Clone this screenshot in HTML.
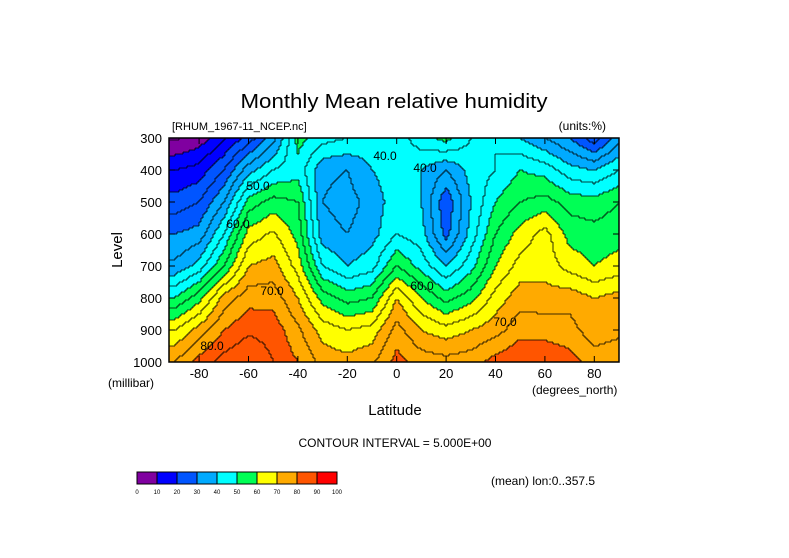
<!DOCTYPE html>
<html><head><meta charset="utf-8"><style>
body{margin:0;background:#fff;}
svg{display:block;font-family:"Liberation Sans",sans-serif;}
</style></head><body>
<svg id="chart" width="789" height="558" viewBox="0 0 789 558">
<rect width="789" height="558" fill="#fff"/>
<text x="394" y="108" font-size="20" text-anchor="middle" textLength="307" lengthAdjust="spacingAndGlyphs">Monthly Mean relative humidity</text>
<text x="172" y="130" font-size="11">[RHUM_1967-11_NCEP.nc]</text>
<text x="606" y="130" font-size="12" text-anchor="end">(units:%)</text>
<g id="field"></g>
<g id="axes"></g>
<text transform="translate(122,250) rotate(-90)" font-size="15" text-anchor="middle">Level</text>
<text x="108" y="387" font-size="12">(millibar)</text>
<text x="532" y="394" font-size="12">(degrees_north)</text>
<text x="395" y="415" font-size="15" text-anchor="middle">Latitude</text>
<text x="395" y="447" font-size="12" text-anchor="middle">CONTOUR INTERVAL = 5.000E+00</text>
<text x="491" y="485" font-size="12">(mean) lon:0..357.5</text>
<g id="cbar"></g>
</svg>
<script>
const lats=[-90,-80,-70,-60,-50,-40,-30,-20,-10,0,10,20,30,40,50,60,70,80,90];
const levels=[300,400,500,600,700,800,900,1000];
// rows = lats, columns = levels
const rh=[
[4,15,22,30,36,50,65,75],
[7,17,25,32,42,58,72,82],
[14,25,35,45,55,72,80,87],
[22,38,52,62,70,78,84,90],
[33,45,57,66,72,78,83,85],
[52,48,55,58,63,70,76,80],
[47,36,35,37,45,58,68,73],
[45,35,33,35,40,53,65,72],
[43,40,37,38,43,55,67,74],
[42,43,43,45,55,70,77,82],
[48,40,40,42,48,60,70,78],
[52,35,26,28,40,53,67,77],
[45,42,40,42,48,58,70,78],
[45,45,50,55,60,67,73,82],
[40,50,55,62,67,73,78,85],
[35,48,57,67,68,72,78,84],
[30,42,53,58,63,73,77,82],
[22,40,52,57,60,70,72,78],
[33,45,55,58,62,72,74,78]];
const bandColors=["#8000a0","#0000ff","#0055ff","#00aaff","#00ffff","#00ff55","#ffff00","#ffaa00","#ff5500","#ff0000"];
const cbarTicks=["0","10","20","30","40","50","60","70","80","90","100"];
const xTicks=[-80,-60,-40,-20,0,20,40,60,80];
const yTicks=[300,400,500,600,700,800,900,1000];
const NS="http://www.w3.org/2000/svg";
const X0=169,X1=619,Y0=138,Y1=362;
function xs(lat){return 174.4+(lat+90)*2.47;}
function ys(p){return Y0+(p-300)*(Y1-Y0)/700;}
function xinv(x){return (x-174.4)/2.47-90;}
function yinv(y){return 300+(y-Y0)*700/(Y1-Y0);}
function idx(arr,v){let i=0;while(i<arr.length-2&&v>arr[i+1])i++;let t=(v-arr[i])/(arr[i+1]-arr[i]);return [i,Math.max(0,Math.min(1,t))];}
function val(lat,p){const [i,t]=idx(lats,lat),[j,u]=idx(levels,p);
 return rh[i][j]*(1-t)*(1-u)+rh[i+1][j]*t*(1-u)+rh[i][j+1]*(1-t)*u+rh[i+1][j+1]*t*u;}
function mk(tag,a,parent){const e=document.createElementNS(NS,tag);for(const k in a)e.setAttribute(k,a[k]);parent.appendChild(e);return e;}
const field=document.getElementById('field');
const S=2,nx=Math.ceil((X1-X0)/S),ny=Math.ceil((Y1-Y0)/S);
const grid=[];const contourStep=5;
for(let j=0;j<ny;j++){grid.push([]);for(let i=0;i<nx;i++){grid[j].push(val(xinv(X0+i*S+S/2),yinv(Y0+j*S+S/2)));}}
const paths=bandColors.map(()=>"");
let lines="";
for(let j=0;j<ny;j++)for(let i=0;i<nx;i++){
 const v=grid[j][i];const b=Math.max(0,Math.min(9,Math.floor(v/10)));
 const x=X0+i*S,y=Y0+j*S;
 paths[b]+="M"+x+" "+y+"h"+S+"v"+S+"h-"+S+"z";
 const c=Math.floor(v/contourStep);
 if(i<nx-1&&Math.floor(grid[j][i+1]/contourStep)!==c)lines+="M"+(x+S)+" "+y+"v"+S;
 if(j<ny-1&&Math.floor(grid[j+1][i]/contourStep)!==c)lines+="M"+x+" "+(y+S)+"h"+S;
}
paths.forEach((d,k)=>{const p=mk('path',{d:d,fill:bandColors[k]},field);

});
const cl=mk('path',{d:lines,stroke:"#000","stroke-width":"0.8",fill:"none"},field);


[["40.0",385,160],["50.0",258,190],["60.0",238,228],["70.0",272,295],["80.0",212,350],["40.0",425,172],["70.0",505,326],["60.0",422,290]].forEach(l=>{
 const t=mk('text',{x:l[1],y:l[2],"font-size":"12","text-anchor":"middle"},field);t.textContent=l[0];
 
 });
const axes=document.getElementById('axes');
const fr=mk('rect',{x:X0,y:Y0,width:X1-X0,height:Y1-Y0,fill:"none",stroke:"#000","stroke-width":"1.5"},axes);


xTicks.forEach(v=>{const x=xs(v);
 mk('line',{x1:x,x2:x,y1:Y1,y2:Y1-6,stroke:"#000"},axes);mk('line',{x1:x,x2:x,y1:Y0,y2:Y0+6,stroke:"#000"},axes);
 const t=mk('text',{x:x,y:Y1+16,"font-size":"13","text-anchor":"middle"},axes);t.textContent=v;
 
 });
yTicks.forEach(v=>{const y=ys(v);
 mk('line',{x1:X0,x2:X0+6,y1:y,y2:y,stroke:"#000"},axes);mk('line',{x1:X1,x2:X1-6,y1:y,y2:y,stroke:"#000"},axes);
 const t=mk('text',{x:162,y:y+5,"font-size":"13","text-anchor":"end"},axes);t.textContent=v;
 
 });
const cb=document.getElementById('cbar');
bandColors.forEach((c,k)=>{const r=mk('rect',{x:137+k*20,y:472,width:20,height:12,fill:c,stroke:"#000","stroke-width":"1"},cb);
 
 });
cbarTicks.forEach((s,k)=>{const t=mk('text',{x:137+k*20,y:494,"font-size":"6","text-anchor":"middle"},cb);t.textContent=s;
 
 });
</script>
</body></html>
